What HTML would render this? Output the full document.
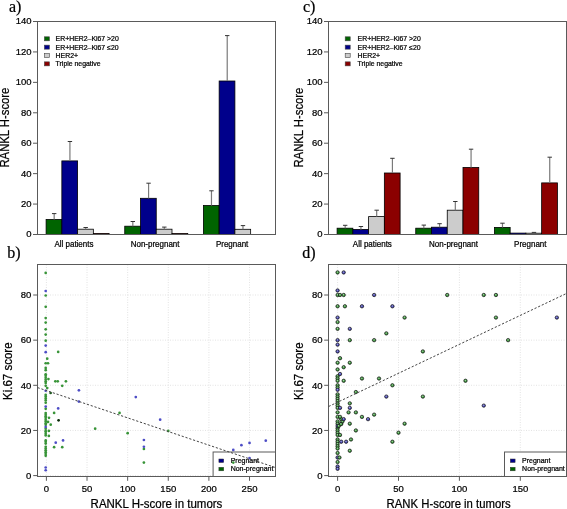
<!DOCTYPE html>
<html><head><meta charset="utf-8"><style>
html,body{margin:0;padding:0;background:#fff;width:567px;height:509px;overflow:hidden}
svg text{fill:#000;stroke:#000;stroke-width:0.22px}
svg{filter:blur(0.3px)}
</style></head><body>
<svg width="567" height="509" viewBox="0 0 567 509" font-family="Liberation Sans, sans-serif" style="display:block">
<defs><radialGradient id="gg" cx="0.45" cy="0.4" r="0.6"><stop offset="0" stop-color="#a8d8a8"/><stop offset="0.55" stop-color="#3f9a3f"/><stop offset="1" stop-color="#2a7a2a"/></radialGradient><radialGradient id="gb" cx="0.45" cy="0.4" r="0.6"><stop offset="0" stop-color="#a8a8e0"/><stop offset="0.55" stop-color="#4a4ab8"/><stop offset="1" stop-color="#30308a"/></radialGradient></defs>
<rect width="567" height="509" fill="#fff"/>
<rect x="37.5" y="21.5" width="238.0" height="213.0" fill="none" stroke="#5a5a5a" stroke-width="1"/>
<line x1="33.0" y1="234.50" x2="37.5" y2="234.50" stroke="#5a5a5a" stroke-width="1"/>
<text transform="translate(31.60,237.40) scale(1,1.05)" text-anchor="end" font-size="9.5">0</text>
<line x1="33.0" y1="204.07" x2="37.5" y2="204.07" stroke="#5a5a5a" stroke-width="1"/>
<text transform="translate(31.60,206.97) scale(1,1.05)" text-anchor="end" font-size="9.5">20</text>
<line x1="33.0" y1="173.64" x2="37.5" y2="173.64" stroke="#5a5a5a" stroke-width="1"/>
<text transform="translate(31.60,176.54) scale(1,1.05)" text-anchor="end" font-size="9.5">40</text>
<line x1="33.0" y1="143.21" x2="37.5" y2="143.21" stroke="#5a5a5a" stroke-width="1"/>
<text transform="translate(31.60,146.11) scale(1,1.05)" text-anchor="end" font-size="9.5">60</text>
<line x1="33.0" y1="112.79" x2="37.5" y2="112.79" stroke="#5a5a5a" stroke-width="1"/>
<text transform="translate(31.60,115.69) scale(1,1.05)" text-anchor="end" font-size="9.5">80</text>
<line x1="33.0" y1="82.36" x2="37.5" y2="82.36" stroke="#5a5a5a" stroke-width="1"/>
<text transform="translate(31.60,85.26) scale(1,1.05)" text-anchor="end" font-size="9.5">100</text>
<line x1="33.0" y1="51.93" x2="37.5" y2="51.93" stroke="#5a5a5a" stroke-width="1"/>
<text transform="translate(31.60,54.83) scale(1,1.05)" text-anchor="end" font-size="9.5">120</text>
<line x1="33.0" y1="21.50" x2="37.5" y2="21.50" stroke="#5a5a5a" stroke-width="1"/>
<text transform="translate(31.60,24.40) scale(1,1.05)" text-anchor="end" font-size="9.5">140</text>
<rect x="46.10" y="219.50" width="15.75" height="15.00" fill="#006400" stroke="#000" stroke-width="0.8"/>
<line x1="54.18" y1="213.60" x2="54.18" y2="219.50" stroke="#7a7a7a" stroke-width="1.2"/>
<line x1="51.98" y1="213.60" x2="56.38" y2="213.60" stroke="#333" stroke-width="1"/>
<rect x="61.85" y="160.90" width="15.75" height="73.60" fill="#00008b" stroke="#000" stroke-width="0.8"/>
<line x1="69.92" y1="141.50" x2="69.92" y2="160.90" stroke="#7a7a7a" stroke-width="1.2"/>
<line x1="67.72" y1="141.50" x2="72.12" y2="141.50" stroke="#333" stroke-width="1"/>
<rect x="77.60" y="229.20" width="15.75" height="5.30" fill="#cccccc" stroke="#000" stroke-width="0.8"/>
<line x1="85.67" y1="227.50" x2="85.67" y2="229.20" stroke="#7a7a7a" stroke-width="1.2"/>
<line x1="83.47" y1="227.50" x2="87.88" y2="227.50" stroke="#333" stroke-width="1"/>
<rect x="93.35" y="233.40" width="15.75" height="1.10" fill="#8b0000" stroke="#000" stroke-width="0.8"/>
<rect x="124.75" y="226.20" width="15.75" height="8.30" fill="#006400" stroke="#000" stroke-width="0.8"/>
<line x1="132.82" y1="221.50" x2="132.82" y2="226.20" stroke="#7a7a7a" stroke-width="1.2"/>
<line x1="130.62" y1="221.50" x2="135.02" y2="221.50" stroke="#333" stroke-width="1"/>
<rect x="140.50" y="198.30" width="15.75" height="36.20" fill="#00008b" stroke="#000" stroke-width="0.8"/>
<line x1="148.57" y1="183.20" x2="148.57" y2="198.30" stroke="#7a7a7a" stroke-width="1.2"/>
<line x1="146.38" y1="183.20" x2="150.77" y2="183.20" stroke="#333" stroke-width="1"/>
<rect x="156.25" y="229.20" width="15.75" height="5.30" fill="#cccccc" stroke="#000" stroke-width="0.8"/>
<line x1="164.32" y1="227.10" x2="164.32" y2="229.20" stroke="#7a7a7a" stroke-width="1.2"/>
<line x1="162.12" y1="227.10" x2="166.52" y2="227.10" stroke="#333" stroke-width="1"/>
<rect x="172.00" y="233.50" width="15.75" height="1.00" fill="#8b0000" stroke="#000" stroke-width="0.8"/>
<rect x="203.40" y="205.50" width="15.75" height="29.00" fill="#006400" stroke="#000" stroke-width="0.8"/>
<line x1="211.47" y1="190.80" x2="211.47" y2="205.50" stroke="#7a7a7a" stroke-width="1.2"/>
<line x1="209.28" y1="190.80" x2="213.67" y2="190.80" stroke="#333" stroke-width="1"/>
<rect x="219.15" y="81.00" width="15.75" height="153.50" fill="#00008b" stroke="#000" stroke-width="0.8"/>
<line x1="227.22" y1="35.60" x2="227.22" y2="81.00" stroke="#7a7a7a" stroke-width="1.2"/>
<line x1="225.03" y1="35.60" x2="229.42" y2="35.60" stroke="#333" stroke-width="1"/>
<rect x="234.90" y="229.30" width="15.75" height="5.20" fill="#cccccc" stroke="#000" stroke-width="0.8"/>
<line x1="242.97" y1="225.60" x2="242.97" y2="229.30" stroke="#7a7a7a" stroke-width="1.2"/>
<line x1="240.78" y1="225.60" x2="245.17" y2="225.60" stroke="#333" stroke-width="1"/>
<line x1="37.5" y1="234.5" x2="275.5" y2="234.5" stroke="#5a5a5a" stroke-width="1"/>
<text transform="translate(54.40,247.20) scale(1,1.05)" font-size="8">All patients</text>
<text transform="translate(130.70,247.20) scale(1,1.05)" font-size="8">Non-pregnant</text>
<text transform="translate(215.90,247.20) scale(1,1.05)" font-size="8">Pregnant</text>
<rect x="44.4" y="36.80" width="5" height="4" fill="#006400" stroke="#444" stroke-width="0.6"/>
<text transform="translate(55.60,41.40) scale(1,1.05)" font-size="6.9">ER+HER2–Ki67 &gt;20</text>
<rect x="44.4" y="45.15" width="5" height="4" fill="#00008b" stroke="#444" stroke-width="0.6"/>
<text transform="translate(55.60,49.75) scale(1,1.05)" font-size="6.9">ER+HER2–Ki67 ≤20</text>
<rect x="44.4" y="53.50" width="5" height="4" fill="#cccccc" stroke="#444" stroke-width="0.6"/>
<text transform="translate(55.60,58.10) scale(1,1.05)" font-size="6.9">HER2+</text>
<rect x="44.4" y="61.85" width="5" height="4" fill="#8b0000" stroke="#444" stroke-width="0.6"/>
<text transform="translate(55.60,66.45) scale(1,1.05)" font-size="6.9">Triple negative</text>
<text x="9.0" y="11.7" font-family="Liberation Serif, serif" font-size="16">a)</text>
<text transform="translate(9.40,127.60) rotate(-90) scale(1,1.05)" text-anchor="middle" font-size="11.3">RANKL H-score</text>
<rect x="328.5" y="21.5" width="238.0" height="213.0" fill="none" stroke="#5a5a5a" stroke-width="1"/>
<line x1="324.0" y1="234.50" x2="328.5" y2="234.50" stroke="#5a5a5a" stroke-width="1"/>
<text transform="translate(322.50,237.40) scale(1,1.05)" text-anchor="end" font-size="9.5">0</text>
<line x1="324.0" y1="204.07" x2="328.5" y2="204.07" stroke="#5a5a5a" stroke-width="1"/>
<text transform="translate(322.50,206.97) scale(1,1.05)" text-anchor="end" font-size="9.5">20</text>
<line x1="324.0" y1="173.64" x2="328.5" y2="173.64" stroke="#5a5a5a" stroke-width="1"/>
<text transform="translate(322.50,176.54) scale(1,1.05)" text-anchor="end" font-size="9.5">40</text>
<line x1="324.0" y1="143.21" x2="328.5" y2="143.21" stroke="#5a5a5a" stroke-width="1"/>
<text transform="translate(322.50,146.11) scale(1,1.05)" text-anchor="end" font-size="9.5">60</text>
<line x1="324.0" y1="112.79" x2="328.5" y2="112.79" stroke="#5a5a5a" stroke-width="1"/>
<text transform="translate(322.50,115.69) scale(1,1.05)" text-anchor="end" font-size="9.5">80</text>
<line x1="324.0" y1="82.36" x2="328.5" y2="82.36" stroke="#5a5a5a" stroke-width="1"/>
<text transform="translate(322.50,85.26) scale(1,1.05)" text-anchor="end" font-size="9.5">100</text>
<line x1="324.0" y1="51.93" x2="328.5" y2="51.93" stroke="#5a5a5a" stroke-width="1"/>
<text transform="translate(322.50,54.83) scale(1,1.05)" text-anchor="end" font-size="9.5">120</text>
<line x1="324.0" y1="21.50" x2="328.5" y2="21.50" stroke="#5a5a5a" stroke-width="1"/>
<text transform="translate(322.50,24.40) scale(1,1.05)" text-anchor="end" font-size="9.5">140</text>
<rect x="337.10" y="228.20" width="15.75" height="6.30" fill="#006400" stroke="#000" stroke-width="0.8"/>
<line x1="345.18" y1="225.30" x2="345.18" y2="228.20" stroke="#7a7a7a" stroke-width="1.2"/>
<line x1="342.98" y1="225.30" x2="347.38" y2="225.30" stroke="#333" stroke-width="1"/>
<rect x="352.85" y="229.40" width="15.75" height="5.10" fill="#00008b" stroke="#000" stroke-width="0.8"/>
<line x1="360.93" y1="226.50" x2="360.93" y2="229.40" stroke="#7a7a7a" stroke-width="1.2"/>
<line x1="358.73" y1="226.50" x2="363.12" y2="226.50" stroke="#333" stroke-width="1"/>
<rect x="368.60" y="216.60" width="15.75" height="17.90" fill="#cccccc" stroke="#000" stroke-width="0.8"/>
<line x1="376.68" y1="210.20" x2="376.68" y2="216.60" stroke="#7a7a7a" stroke-width="1.2"/>
<line x1="374.48" y1="210.20" x2="378.88" y2="210.20" stroke="#333" stroke-width="1"/>
<rect x="384.35" y="173.00" width="15.75" height="61.50" fill="#8b0000" stroke="#000" stroke-width="0.8"/>
<line x1="392.43" y1="158.30" x2="392.43" y2="173.00" stroke="#7a7a7a" stroke-width="1.2"/>
<line x1="390.23" y1="158.30" x2="394.62" y2="158.30" stroke="#333" stroke-width="1"/>
<rect x="415.75" y="228.20" width="15.75" height="6.30" fill="#006400" stroke="#000" stroke-width="0.8"/>
<line x1="423.82" y1="225.10" x2="423.82" y2="228.20" stroke="#7a7a7a" stroke-width="1.2"/>
<line x1="421.62" y1="225.10" x2="426.02" y2="225.10" stroke="#333" stroke-width="1"/>
<rect x="431.50" y="227.20" width="15.75" height="7.30" fill="#00008b" stroke="#000" stroke-width="0.8"/>
<line x1="439.57" y1="223.70" x2="439.57" y2="227.20" stroke="#7a7a7a" stroke-width="1.2"/>
<line x1="437.38" y1="223.70" x2="441.77" y2="223.70" stroke="#333" stroke-width="1"/>
<rect x="447.25" y="210.20" width="15.75" height="24.30" fill="#cccccc" stroke="#000" stroke-width="0.8"/>
<line x1="455.32" y1="201.50" x2="455.32" y2="210.20" stroke="#7a7a7a" stroke-width="1.2"/>
<line x1="453.12" y1="201.50" x2="457.52" y2="201.50" stroke="#333" stroke-width="1"/>
<rect x="463.00" y="167.40" width="15.75" height="67.10" fill="#8b0000" stroke="#000" stroke-width="0.8"/>
<line x1="471.07" y1="149.20" x2="471.07" y2="167.40" stroke="#7a7a7a" stroke-width="1.2"/>
<line x1="468.88" y1="149.20" x2="473.27" y2="149.20" stroke="#333" stroke-width="1"/>
<rect x="494.40" y="227.40" width="15.75" height="7.10" fill="#006400" stroke="#000" stroke-width="0.8"/>
<line x1="502.48" y1="223.20" x2="502.48" y2="227.40" stroke="#7a7a7a" stroke-width="1.2"/>
<line x1="500.28" y1="223.20" x2="504.68" y2="223.20" stroke="#333" stroke-width="1"/>
<rect x="510.15" y="233.10" width="15.75" height="1.40" fill="#00008b" stroke="#000" stroke-width="0.8"/>
<rect x="525.90" y="233.20" width="15.75" height="1.30" fill="#cccccc" stroke="#000" stroke-width="0.8"/>
<line x1="533.98" y1="232.40" x2="533.98" y2="233.20" stroke="#7a7a7a" stroke-width="1.2"/>
<line x1="531.78" y1="232.40" x2="536.18" y2="232.40" stroke="#333" stroke-width="1"/>
<rect x="541.65" y="182.90" width="15.75" height="51.60" fill="#8b0000" stroke="#000" stroke-width="0.8"/>
<line x1="549.73" y1="157.20" x2="549.73" y2="182.90" stroke="#7a7a7a" stroke-width="1.2"/>
<line x1="547.53" y1="157.20" x2="551.93" y2="157.20" stroke="#333" stroke-width="1"/>
<line x1="328.5" y1="234.5" x2="566.5" y2="234.5" stroke="#5a5a5a" stroke-width="1"/>
<text transform="translate(352.80,247.20) scale(1,1.05)" font-size="8">All patients</text>
<text transform="translate(429.10,247.20) scale(1,1.05)" font-size="8">Non-pregnant</text>
<text transform="translate(514.10,247.20) scale(1,1.05)" font-size="8">Pregnant</text>
<rect x="345.2" y="36.80" width="5" height="4" fill="#006400" stroke="#444" stroke-width="0.6"/>
<text transform="translate(357.60,41.40) scale(1,1.05)" font-size="6.9">ER+HER2–Ki67 &gt;20</text>
<rect x="345.2" y="45.15" width="5" height="4" fill="#00008b" stroke="#444" stroke-width="0.6"/>
<text transform="translate(357.60,49.75) scale(1,1.05)" font-size="6.9">ER+HER2–Ki67 ≤20</text>
<rect x="345.2" y="53.50" width="5" height="4" fill="#cccccc" stroke="#444" stroke-width="0.6"/>
<text transform="translate(357.60,58.10) scale(1,1.05)" font-size="6.9">HER2+</text>
<rect x="345.2" y="61.85" width="5" height="4" fill="#8b0000" stroke="#444" stroke-width="0.6"/>
<text transform="translate(357.60,66.45) scale(1,1.05)" font-size="6.9">Triple negative</text>
<text x="303.0" y="11.7" font-family="Liberation Serif, serif" font-size="16">c)</text>
<text transform="translate(303.10,127.60) rotate(-90) scale(1,1.05)" text-anchor="middle" font-size="11.3">RANKL H-score</text>
<line x1="46.40" y1="264.5" x2="46.40" y2="476.5" stroke="#dcdcdc" stroke-width="0.8" stroke-dasharray="1,1.5"/>
<line x1="87.03" y1="264.5" x2="87.03" y2="476.5" stroke="#dcdcdc" stroke-width="0.8" stroke-dasharray="1,1.5"/>
<line x1="127.65" y1="264.5" x2="127.65" y2="476.5" stroke="#dcdcdc" stroke-width="0.8" stroke-dasharray="1,1.5"/>
<line x1="168.28" y1="264.5" x2="168.28" y2="476.5" stroke="#dcdcdc" stroke-width="0.8" stroke-dasharray="1,1.5"/>
<line x1="208.90" y1="264.5" x2="208.90" y2="476.5" stroke="#dcdcdc" stroke-width="0.8" stroke-dasharray="1,1.5"/>
<line x1="249.53" y1="264.5" x2="249.53" y2="476.5" stroke="#dcdcdc" stroke-width="0.8" stroke-dasharray="1,1.5"/>
<line x1="37.5" y1="475.60" x2="275.5" y2="475.60" stroke="#dcdcdc" stroke-width="0.8" stroke-dasharray="1,1.5"/>
<line x1="37.5" y1="430.45" x2="275.5" y2="430.45" stroke="#dcdcdc" stroke-width="0.8" stroke-dasharray="1,1.5"/>
<line x1="37.5" y1="385.30" x2="275.5" y2="385.30" stroke="#dcdcdc" stroke-width="0.8" stroke-dasharray="1,1.5"/>
<line x1="37.5" y1="340.15" x2="275.5" y2="340.15" stroke="#dcdcdc" stroke-width="0.8" stroke-dasharray="1,1.5"/>
<line x1="37.5" y1="295.00" x2="275.5" y2="295.00" stroke="#dcdcdc" stroke-width="0.8" stroke-dasharray="1,1.5"/>
<rect x="37.5" y="264.5" width="238.0" height="212.0" fill="none" stroke="#5a5a5a" stroke-width="1"/>
<rect x="213.1" y="452" width="62.400000000000006" height="24.5" fill="#fff" stroke="#5a5a5a" stroke-width="1"/>
<rect x="218.9" y="459" width="4.8" height="3.5" fill="#00008b" stroke="#333" stroke-width="0.5"/>
<rect x="218.9" y="467.3" width="4.8" height="3.5" fill="#006400" stroke="#333" stroke-width="0.5"/>
<text transform="translate(230.70,463.00) scale(1,1.05)" font-size="7">Pregnant</text>
<text transform="translate(230.70,471.40) scale(1,1.05)" font-size="7">Non-pregnant</text>
<line x1="33.2" y1="475.60" x2="37.5" y2="475.60" stroke="#5a5a5a" stroke-width="1"/>
<text transform="translate(31.40,478.90) scale(1,1.05)" text-anchor="end" font-size="9.5">0</text>
<line x1="33.2" y1="430.45" x2="37.5" y2="430.45" stroke="#5a5a5a" stroke-width="1"/>
<text transform="translate(31.40,433.75) scale(1,1.05)" text-anchor="end" font-size="9.5">20</text>
<line x1="33.2" y1="385.30" x2="37.5" y2="385.30" stroke="#5a5a5a" stroke-width="1"/>
<text transform="translate(31.40,388.60) scale(1,1.05)" text-anchor="end" font-size="9.5">40</text>
<line x1="33.2" y1="340.15" x2="37.5" y2="340.15" stroke="#5a5a5a" stroke-width="1"/>
<text transform="translate(31.40,343.45) scale(1,1.05)" text-anchor="end" font-size="9.5">60</text>
<line x1="33.2" y1="295.00" x2="37.5" y2="295.00" stroke="#5a5a5a" stroke-width="1"/>
<text transform="translate(31.40,298.30) scale(1,1.05)" text-anchor="end" font-size="9.5">80</text>
<line x1="46.40" y1="476.5" x2="46.40" y2="480.8" stroke="#5a5a5a" stroke-width="1"/>
<text transform="translate(46.40,492.40) scale(1,1.05)" text-anchor="middle" font-size="9.5">0</text>
<line x1="87.03" y1="476.5" x2="87.03" y2="480.8" stroke="#5a5a5a" stroke-width="1"/>
<text transform="translate(87.03,492.40) scale(1,1.05)" text-anchor="middle" font-size="9.5">50</text>
<line x1="127.65" y1="476.5" x2="127.65" y2="480.8" stroke="#5a5a5a" stroke-width="1"/>
<text transform="translate(127.65,492.40) scale(1,1.05)" text-anchor="middle" font-size="9.5">100</text>
<line x1="168.28" y1="476.5" x2="168.28" y2="480.8" stroke="#5a5a5a" stroke-width="1"/>
<text transform="translate(168.28,492.40) scale(1,1.05)" text-anchor="middle" font-size="9.5">150</text>
<line x1="208.90" y1="476.5" x2="208.90" y2="480.8" stroke="#5a5a5a" stroke-width="1"/>
<text transform="translate(208.90,492.40) scale(1,1.05)" text-anchor="middle" font-size="9.5">200</text>
<line x1="249.53" y1="476.5" x2="249.53" y2="480.8" stroke="#5a5a5a" stroke-width="1"/>
<text transform="translate(249.53,492.40) scale(1,1.05)" text-anchor="middle" font-size="9.5">250</text>
<circle cx="45.70" cy="455.78" r="1.35" fill="#389438"/>
<circle cx="45.70" cy="453.98" r="1.35" fill="#389438"/>
<circle cx="45.70" cy="452.17" r="1.35" fill="#389438"/>
<circle cx="45.70" cy="450.36" r="1.35" fill="#389438"/>
<circle cx="45.70" cy="448.56" r="1.35" fill="#389438"/>
<circle cx="45.70" cy="446.75" r="1.35" fill="#389438"/>
<circle cx="45.70" cy="443.59" r="1.35" fill="#389438"/>
<circle cx="45.70" cy="441.79" r="1.35" fill="#389438"/>
<circle cx="45.70" cy="440.43" r="1.35" fill="#389438"/>
<circle cx="45.70" cy="435.47" r="1.35" fill="#389438"/>
<circle cx="45.70" cy="433.66" r="1.35" fill="#389438"/>
<circle cx="45.70" cy="431.85" r="1.35" fill="#389438"/>
<circle cx="45.70" cy="430.95" r="1.35" fill="#389438"/>
<circle cx="45.70" cy="428.69" r="1.35" fill="#389438"/>
<circle cx="45.70" cy="424.85" r="1.35" fill="#389438"/>
<circle cx="45.70" cy="423.27" r="1.35" fill="#389438"/>
<circle cx="45.70" cy="421.47" r="1.35" fill="#389438"/>
<circle cx="45.70" cy="419.66" r="1.35" fill="#389438"/>
<circle cx="45.70" cy="417.86" r="1.35" fill="#389438"/>
<circle cx="45.70" cy="416.28" r="1.35" fill="#389438"/>
<circle cx="45.70" cy="414.70" r="1.35" fill="#389438"/>
<circle cx="45.70" cy="413.12" r="1.35" fill="#389438"/>
<circle cx="45.70" cy="408.83" r="1.35" fill="#389438"/>
<circle cx="45.70" cy="402.73" r="1.35" fill="#389438"/>
<circle cx="45.70" cy="400.47" r="1.35" fill="#389438"/>
<circle cx="45.70" cy="398.44" r="1.35" fill="#389438"/>
<circle cx="45.70" cy="396.41" r="1.35" fill="#389438"/>
<circle cx="45.70" cy="394.83" r="1.35" fill="#389438"/>
<circle cx="45.70" cy="385.80" r="1.35" fill="#389438"/>
<circle cx="45.70" cy="383.09" r="1.35" fill="#389438"/>
<circle cx="45.70" cy="381.29" r="1.35" fill="#389438"/>
<circle cx="45.70" cy="379.48" r="1.35" fill="#389438"/>
<circle cx="45.70" cy="377.67" r="1.35" fill="#389438"/>
<circle cx="45.70" cy="375.64" r="1.35" fill="#389438"/>
<circle cx="45.70" cy="374.29" r="1.35" fill="#389438"/>
<circle cx="45.70" cy="370.22" r="1.35" fill="#389438"/>
<circle cx="45.70" cy="367.97" r="1.35" fill="#389438"/>
<circle cx="45.70" cy="363.23" r="1.35" fill="#389438"/>
<circle cx="45.70" cy="340.65" r="1.35" fill="#389438"/>
<circle cx="45.70" cy="334.55" r="1.35" fill="#389438"/>
<circle cx="45.70" cy="329.36" r="1.35" fill="#389438"/>
<circle cx="45.70" cy="322.59" r="1.35" fill="#389438"/>
<circle cx="45.70" cy="318.08" r="1.35" fill="#389438"/>
<circle cx="45.70" cy="306.79" r="1.35" fill="#389438"/>
<circle cx="45.70" cy="295.50" r="1.35" fill="#389438"/>
<circle cx="45.70" cy="272.93" r="1.35" fill="#389438"/>
<circle cx="45.70" cy="470.23" r="1.35" fill="#4d4dc6"/>
<circle cx="45.70" cy="467.52" r="1.35" fill="#4d4dc6"/>
<circle cx="45.70" cy="426.89" r="1.35" fill="#4d4dc6"/>
<circle cx="45.70" cy="406.57" r="1.35" fill="#4d4dc6"/>
<circle cx="45.70" cy="390.77" r="1.35" fill="#4d4dc6"/>
<circle cx="45.70" cy="352.16" r="1.35" fill="#4d4dc6"/>
<circle cx="45.70" cy="345.62" r="1.35" fill="#4d4dc6"/>
<circle cx="45.70" cy="290.99" r="1.35" fill="#4d4dc6"/>
<circle cx="48.02" cy="363.23" r="1.35" fill="#389438"/>
<circle cx="47.21" cy="358.71" r="1.35" fill="#389438"/>
<circle cx="58.18" cy="351.94" r="1.35" fill="#389438"/>
<circle cx="48.43" cy="379.03" r="1.35" fill="#389438"/>
<circle cx="55.34" cy="381.29" r="1.35" fill="#389438"/>
<circle cx="57.77" cy="381.29" r="1.35" fill="#389438"/>
<circle cx="65.90" cy="381.29" r="1.35" fill="#389438"/>
<circle cx="62.24" cy="385.80" r="1.35" fill="#389438"/>
<circle cx="47.21" cy="388.06" r="1.35" fill="#389438"/>
<circle cx="50.62" cy="393.02" r="1.35" fill="#1d5a1d"/>
<circle cx="54.12" cy="412.89" r="1.35" fill="#389438"/>
<circle cx="49.00" cy="417.86" r="1.35" fill="#389438"/>
<circle cx="48.02" cy="421.92" r="1.35" fill="#389438"/>
<circle cx="50.71" cy="424.63" r="1.35" fill="#389438"/>
<circle cx="48.84" cy="430.95" r="1.35" fill="#389438"/>
<circle cx="48.84" cy="435.92" r="1.35" fill="#389438"/>
<circle cx="54.12" cy="447.20" r="1.35" fill="#389438"/>
<circle cx="62.24" cy="447.20" r="1.35" fill="#389438"/>
<circle cx="95.15" cy="428.69" r="1.35" fill="#389438"/>
<circle cx="119.53" cy="412.89" r="1.35" fill="#389438"/>
<circle cx="127.65" cy="433.21" r="1.35" fill="#389438"/>
<circle cx="168.28" cy="430.95" r="1.35" fill="#389438"/>
<circle cx="143.90" cy="449.01" r="1.35" fill="#389438"/>
<circle cx="143.90" cy="462.56" r="1.35" fill="#389438"/>
<circle cx="233.28" cy="462.56" r="1.35" fill="#389438"/>
<circle cx="58.18" cy="408.38" r="1.35" fill="#4d4dc6"/>
<circle cx="78.90" cy="390.32" r="1.35" fill="#4d4dc6"/>
<circle cx="78.90" cy="401.60" r="1.35" fill="#4d4dc6"/>
<circle cx="63.06" cy="440.43" r="1.35" fill="#4d4dc6"/>
<circle cx="55.74" cy="442.69" r="1.35" fill="#4d4dc6"/>
<circle cx="135.78" cy="397.09" r="1.35" fill="#4d4dc6"/>
<circle cx="160.15" cy="419.66" r="1.35" fill="#4d4dc6"/>
<circle cx="143.90" cy="439.98" r="1.35" fill="#4d4dc6"/>
<circle cx="143.90" cy="446.75" r="1.35" fill="#4d4dc6"/>
<circle cx="233.28" cy="449.91" r="1.35" fill="#4d4dc6"/>
<circle cx="241.40" cy="445.17" r="1.35" fill="#4d4dc6"/>
<circle cx="249.53" cy="442.91" r="1.35" fill="#4d4dc6"/>
<circle cx="265.77" cy="440.66" r="1.35" fill="#4d4dc6"/>
<circle cx="249.53" cy="458.04" r="1.35" fill="#4d4dc6"/>
<circle cx="58.59" cy="420.34" r="1.35" fill="#0a2a0a"/>
<line x1="37.6" y1="387.6" x2="275.6" y2="467.6" stroke="#444" stroke-width="1" stroke-dasharray="2.2,1.8"/>
<text x="7.2" y="257.8" font-family="Liberation Serif, serif" font-size="16">b)</text>
<text transform="translate(12.20,371.20) rotate(-90) scale(1,1.05)" text-anchor="middle" font-size="11.5">Ki.67 score</text>
<text transform="translate(90.60,508.00) scale(1,1.05)" font-size="11.5">RANKL H-score in tumors</text>
<line x1="337.60" y1="264.5" x2="337.60" y2="476.5" stroke="#dcdcdc" stroke-width="0.8" stroke-dasharray="1,1.5"/>
<line x1="398.50" y1="264.5" x2="398.50" y2="476.5" stroke="#dcdcdc" stroke-width="0.8" stroke-dasharray="1,1.5"/>
<line x1="459.40" y1="264.5" x2="459.40" y2="476.5" stroke="#dcdcdc" stroke-width="0.8" stroke-dasharray="1,1.5"/>
<line x1="520.30" y1="264.5" x2="520.30" y2="476.5" stroke="#dcdcdc" stroke-width="0.8" stroke-dasharray="1,1.5"/>
<line x1="328.5" y1="475.60" x2="566.5" y2="475.60" stroke="#dcdcdc" stroke-width="0.8" stroke-dasharray="1,1.5"/>
<line x1="328.5" y1="430.45" x2="566.5" y2="430.45" stroke="#dcdcdc" stroke-width="0.8" stroke-dasharray="1,1.5"/>
<line x1="328.5" y1="385.30" x2="566.5" y2="385.30" stroke="#dcdcdc" stroke-width="0.8" stroke-dasharray="1,1.5"/>
<line x1="328.5" y1="340.15" x2="566.5" y2="340.15" stroke="#dcdcdc" stroke-width="0.8" stroke-dasharray="1,1.5"/>
<line x1="328.5" y1="295.00" x2="566.5" y2="295.00" stroke="#dcdcdc" stroke-width="0.8" stroke-dasharray="1,1.5"/>
<rect x="328.5" y="264.5" width="238.0" height="212.0" fill="none" stroke="#5a5a5a" stroke-width="1"/>
<rect x="504.5" y="452" width="62.0" height="24.5" fill="#fff" stroke="#5a5a5a" stroke-width="1"/>
<rect x="510.3" y="459" width="4.8" height="3.5" fill="#00008b" stroke="#333" stroke-width="0.5"/>
<rect x="510.3" y="467.3" width="4.8" height="3.5" fill="#006400" stroke="#333" stroke-width="0.5"/>
<text transform="translate(522.10,463.00) scale(1,1.05)" font-size="7">Pregnant</text>
<text transform="translate(522.10,471.40) scale(1,1.05)" font-size="7">Non-pregnant</text>
<line x1="324.2" y1="475.60" x2="328.5" y2="475.60" stroke="#5a5a5a" stroke-width="1"/>
<text transform="translate(322.60,478.90) scale(1,1.05)" text-anchor="end" font-size="9.5">0</text>
<line x1="324.2" y1="430.45" x2="328.5" y2="430.45" stroke="#5a5a5a" stroke-width="1"/>
<text transform="translate(322.60,433.75) scale(1,1.05)" text-anchor="end" font-size="9.5">20</text>
<line x1="324.2" y1="385.30" x2="328.5" y2="385.30" stroke="#5a5a5a" stroke-width="1"/>
<text transform="translate(322.60,388.60) scale(1,1.05)" text-anchor="end" font-size="9.5">40</text>
<line x1="324.2" y1="340.15" x2="328.5" y2="340.15" stroke="#5a5a5a" stroke-width="1"/>
<text transform="translate(322.60,343.45) scale(1,1.05)" text-anchor="end" font-size="9.5">60</text>
<line x1="324.2" y1="295.00" x2="328.5" y2="295.00" stroke="#5a5a5a" stroke-width="1"/>
<text transform="translate(322.60,298.30) scale(1,1.05)" text-anchor="end" font-size="9.5">80</text>
<line x1="337.60" y1="476.5" x2="337.60" y2="480.8" stroke="#5a5a5a" stroke-width="1"/>
<text transform="translate(337.60,492.40) scale(1,1.05)" text-anchor="middle" font-size="9.5">0</text>
<line x1="398.50" y1="476.5" x2="398.50" y2="480.8" stroke="#5a5a5a" stroke-width="1"/>
<text transform="translate(398.50,492.40) scale(1,1.05)" text-anchor="middle" font-size="9.5">50</text>
<line x1="459.40" y1="476.5" x2="459.40" y2="480.8" stroke="#5a5a5a" stroke-width="1"/>
<text transform="translate(459.40,492.40) scale(1,1.05)" text-anchor="middle" font-size="9.5">100</text>
<line x1="520.30" y1="476.5" x2="520.30" y2="480.8" stroke="#5a5a5a" stroke-width="1"/>
<text transform="translate(520.30,492.40) scale(1,1.05)" text-anchor="middle" font-size="9.5">150</text>
<circle cx="337.60" cy="272.43" r="1.7" fill="url(#gg)" stroke="#1a1a1a" stroke-width="0.7"/>
<circle cx="337.60" cy="295.00" r="1.7" fill="url(#gg)" stroke="#1a1a1a" stroke-width="0.7"/>
<circle cx="337.60" cy="306.29" r="1.7" fill="url(#gg)" stroke="#1a1a1a" stroke-width="0.7"/>
<circle cx="337.60" cy="322.09" r="1.7" fill="url(#gg)" stroke="#1a1a1a" stroke-width="0.7"/>
<circle cx="337.60" cy="328.86" r="1.7" fill="url(#gg)" stroke="#1a1a1a" stroke-width="0.7"/>
<circle cx="337.60" cy="362.73" r="1.7" fill="url(#gg)" stroke="#1a1a1a" stroke-width="0.7"/>
<circle cx="337.60" cy="369.50" r="1.7" fill="url(#gg)" stroke="#1a1a1a" stroke-width="0.7"/>
<circle cx="337.60" cy="376.27" r="1.7" fill="url(#gg)" stroke="#1a1a1a" stroke-width="0.7"/>
<circle cx="337.60" cy="378.53" r="1.7" fill="url(#gg)" stroke="#1a1a1a" stroke-width="0.7"/>
<circle cx="337.60" cy="380.79" r="1.7" fill="url(#gg)" stroke="#1a1a1a" stroke-width="0.7"/>
<circle cx="337.60" cy="385.30" r="1.7" fill="url(#gg)" stroke="#1a1a1a" stroke-width="0.7"/>
<circle cx="337.60" cy="387.56" r="1.7" fill="url(#gg)" stroke="#1a1a1a" stroke-width="0.7"/>
<circle cx="337.60" cy="394.33" r="1.7" fill="url(#gg)" stroke="#1a1a1a" stroke-width="0.7"/>
<circle cx="337.60" cy="396.59" r="1.7" fill="url(#gg)" stroke="#1a1a1a" stroke-width="0.7"/>
<circle cx="337.60" cy="398.85" r="1.7" fill="url(#gg)" stroke="#1a1a1a" stroke-width="0.7"/>
<circle cx="337.60" cy="401.10" r="1.7" fill="url(#gg)" stroke="#1a1a1a" stroke-width="0.7"/>
<circle cx="337.60" cy="403.36" r="1.7" fill="url(#gg)" stroke="#1a1a1a" stroke-width="0.7"/>
<circle cx="337.60" cy="405.62" r="1.7" fill="url(#gg)" stroke="#1a1a1a" stroke-width="0.7"/>
<circle cx="337.60" cy="407.88" r="1.7" fill="url(#gg)" stroke="#1a1a1a" stroke-width="0.7"/>
<circle cx="337.60" cy="412.39" r="1.7" fill="url(#gg)" stroke="#1a1a1a" stroke-width="0.7"/>
<circle cx="337.60" cy="416.91" r="1.7" fill="url(#gg)" stroke="#1a1a1a" stroke-width="0.7"/>
<circle cx="337.60" cy="421.42" r="1.7" fill="url(#gg)" stroke="#1a1a1a" stroke-width="0.7"/>
<circle cx="337.60" cy="423.68" r="1.7" fill="url(#gg)" stroke="#1a1a1a" stroke-width="0.7"/>
<circle cx="337.60" cy="428.19" r="1.7" fill="url(#gg)" stroke="#1a1a1a" stroke-width="0.7"/>
<circle cx="337.60" cy="430.45" r="1.7" fill="url(#gg)" stroke="#1a1a1a" stroke-width="0.7"/>
<circle cx="337.60" cy="432.71" r="1.7" fill="url(#gg)" stroke="#1a1a1a" stroke-width="0.7"/>
<circle cx="337.60" cy="434.97" r="1.7" fill="url(#gg)" stroke="#1a1a1a" stroke-width="0.7"/>
<circle cx="337.60" cy="439.48" r="1.7" fill="url(#gg)" stroke="#1a1a1a" stroke-width="0.7"/>
<circle cx="337.60" cy="441.74" r="1.7" fill="url(#gg)" stroke="#1a1a1a" stroke-width="0.7"/>
<circle cx="337.60" cy="444.00" r="1.7" fill="url(#gg)" stroke="#1a1a1a" stroke-width="0.7"/>
<circle cx="337.60" cy="446.25" r="1.7" fill="url(#gg)" stroke="#1a1a1a" stroke-width="0.7"/>
<circle cx="337.60" cy="448.51" r="1.7" fill="url(#gg)" stroke="#1a1a1a" stroke-width="0.7"/>
<circle cx="337.60" cy="453.03" r="1.7" fill="url(#gg)" stroke="#1a1a1a" stroke-width="0.7"/>
<circle cx="337.60" cy="462.06" r="1.7" fill="url(#gg)" stroke="#1a1a1a" stroke-width="0.7"/>
<circle cx="337.60" cy="290.49" r="1.7" fill="url(#gb)" stroke="#1a1a1a" stroke-width="0.7"/>
<circle cx="337.60" cy="317.58" r="1.7" fill="url(#gb)" stroke="#1a1a1a" stroke-width="0.7"/>
<circle cx="337.60" cy="340.15" r="1.7" fill="url(#gb)" stroke="#1a1a1a" stroke-width="0.7"/>
<circle cx="337.60" cy="344.67" r="1.7" fill="url(#gb)" stroke="#1a1a1a" stroke-width="0.7"/>
<circle cx="337.60" cy="351.44" r="1.7" fill="url(#gb)" stroke="#1a1a1a" stroke-width="0.7"/>
<circle cx="337.60" cy="389.82" r="1.7" fill="url(#gb)" stroke="#1a1a1a" stroke-width="0.7"/>
<circle cx="337.60" cy="425.94" r="1.7" fill="url(#gb)" stroke="#1a1a1a" stroke-width="0.7"/>
<circle cx="337.60" cy="457.54" r="1.7" fill="url(#gb)" stroke="#1a1a1a" stroke-width="0.7"/>
<circle cx="337.60" cy="466.57" r="1.7" fill="url(#gb)" stroke="#1a1a1a" stroke-width="0.7"/>
<circle cx="337.60" cy="468.83" r="1.7" fill="url(#gb)" stroke="#1a1a1a" stroke-width="0.7"/>
<circle cx="340.04" cy="295.00" r="1.7" fill="url(#gg)" stroke="#1a1a1a" stroke-width="0.7"/>
<circle cx="343.69" cy="295.00" r="1.7" fill="url(#gg)" stroke="#1a1a1a" stroke-width="0.7"/>
<circle cx="344.91" cy="306.29" r="1.7" fill="url(#gg)" stroke="#1a1a1a" stroke-width="0.7"/>
<circle cx="349.78" cy="340.15" r="1.7" fill="url(#gg)" stroke="#1a1a1a" stroke-width="0.7"/>
<circle cx="374.14" cy="340.15" r="1.7" fill="url(#gg)" stroke="#1a1a1a" stroke-width="0.7"/>
<circle cx="386.32" cy="333.38" r="1.7" fill="url(#gg)" stroke="#1a1a1a" stroke-width="0.7"/>
<circle cx="404.59" cy="317.58" r="1.7" fill="url(#gg)" stroke="#1a1a1a" stroke-width="0.7"/>
<circle cx="422.86" cy="351.44" r="1.7" fill="url(#gg)" stroke="#1a1a1a" stroke-width="0.7"/>
<circle cx="340.04" cy="358.21" r="1.7" fill="url(#gg)" stroke="#1a1a1a" stroke-width="0.7"/>
<circle cx="349.78" cy="362.73" r="1.7" fill="url(#gg)" stroke="#1a1a1a" stroke-width="0.7"/>
<circle cx="343.69" cy="367.24" r="1.7" fill="url(#gg)" stroke="#1a1a1a" stroke-width="0.7"/>
<circle cx="361.96" cy="378.53" r="1.7" fill="url(#gg)" stroke="#1a1a1a" stroke-width="0.7"/>
<circle cx="379.01" cy="378.53" r="1.7" fill="url(#gg)" stroke="#1a1a1a" stroke-width="0.7"/>
<circle cx="343.69" cy="380.79" r="1.7" fill="url(#gg)" stroke="#1a1a1a" stroke-width="0.7"/>
<circle cx="392.41" cy="385.30" r="1.7" fill="url(#gg)" stroke="#1a1a1a" stroke-width="0.7"/>
<circle cx="355.87" cy="392.07" r="1.7" fill="url(#gg)" stroke="#1a1a1a" stroke-width="0.7"/>
<circle cx="422.86" cy="396.59" r="1.7" fill="url(#gg)" stroke="#1a1a1a" stroke-width="0.7"/>
<circle cx="349.78" cy="403.36" r="1.7" fill="url(#gg)" stroke="#1a1a1a" stroke-width="0.7"/>
<circle cx="348.56" cy="412.39" r="1.7" fill="url(#gg)" stroke="#1a1a1a" stroke-width="0.7"/>
<circle cx="355.87" cy="412.39" r="1.7" fill="url(#gg)" stroke="#1a1a1a" stroke-width="0.7"/>
<circle cx="374.14" cy="414.65" r="1.7" fill="url(#gg)" stroke="#1a1a1a" stroke-width="0.7"/>
<circle cx="361.96" cy="416.91" r="1.7" fill="url(#gg)" stroke="#1a1a1a" stroke-width="0.7"/>
<circle cx="341.25" cy="423.68" r="1.7" fill="url(#gg)" stroke="#1a1a1a" stroke-width="0.7"/>
<circle cx="349.78" cy="423.68" r="1.7" fill="url(#gg)" stroke="#1a1a1a" stroke-width="0.7"/>
<circle cx="404.59" cy="423.68" r="1.7" fill="url(#gg)" stroke="#1a1a1a" stroke-width="0.7"/>
<circle cx="355.87" cy="430.45" r="1.7" fill="url(#gg)" stroke="#1a1a1a" stroke-width="0.7"/>
<circle cx="398.50" cy="432.71" r="1.7" fill="url(#gg)" stroke="#1a1a1a" stroke-width="0.7"/>
<circle cx="340.04" cy="434.97" r="1.7" fill="url(#gg)" stroke="#1a1a1a" stroke-width="0.7"/>
<circle cx="351.00" cy="439.48" r="1.7" fill="url(#gg)" stroke="#1a1a1a" stroke-width="0.7"/>
<circle cx="392.41" cy="441.74" r="1.7" fill="url(#gg)" stroke="#1a1a1a" stroke-width="0.7"/>
<circle cx="349.78" cy="450.77" r="1.7" fill="url(#gg)" stroke="#1a1a1a" stroke-width="0.7"/>
<circle cx="339.43" cy="457.54" r="1.7" fill="url(#gg)" stroke="#1a1a1a" stroke-width="0.7"/>
<circle cx="341.25" cy="419.16" r="1.7" fill="url(#gg)" stroke="#1a1a1a" stroke-width="0.7"/>
<circle cx="340.04" cy="416.91" r="1.7" fill="url(#gg)" stroke="#1a1a1a" stroke-width="0.7"/>
<circle cx="342.47" cy="421.42" r="1.7" fill="url(#gg)" stroke="#1a1a1a" stroke-width="0.7"/>
<circle cx="338.82" cy="425.94" r="1.7" fill="url(#gg)" stroke="#1a1a1a" stroke-width="0.7"/>
<circle cx="465.49" cy="380.79" r="1.7" fill="url(#gg)" stroke="#1a1a1a" stroke-width="0.7"/>
<circle cx="447.22" cy="295.00" r="1.7" fill="url(#gg)" stroke="#1a1a1a" stroke-width="0.7"/>
<circle cx="483.76" cy="295.00" r="1.7" fill="url(#gg)" stroke="#1a1a1a" stroke-width="0.7"/>
<circle cx="495.94" cy="295.00" r="1.7" fill="url(#gg)" stroke="#1a1a1a" stroke-width="0.7"/>
<circle cx="495.94" cy="317.58" r="1.7" fill="url(#gg)" stroke="#1a1a1a" stroke-width="0.7"/>
<circle cx="508.12" cy="340.15" r="1.7" fill="url(#gg)" stroke="#1a1a1a" stroke-width="0.7"/>
<circle cx="343.69" cy="272.43" r="1.7" fill="url(#gb)" stroke="#1a1a1a" stroke-width="0.7"/>
<circle cx="374.14" cy="295.00" r="1.7" fill="url(#gb)" stroke="#1a1a1a" stroke-width="0.7"/>
<circle cx="361.96" cy="306.29" r="1.7" fill="url(#gb)" stroke="#1a1a1a" stroke-width="0.7"/>
<circle cx="392.41" cy="306.29" r="1.7" fill="url(#gb)" stroke="#1a1a1a" stroke-width="0.7"/>
<circle cx="349.78" cy="328.86" r="1.7" fill="url(#gb)" stroke="#1a1a1a" stroke-width="0.7"/>
<circle cx="340.04" cy="374.01" r="1.7" fill="url(#gb)" stroke="#1a1a1a" stroke-width="0.7"/>
<circle cx="386.32" cy="396.59" r="1.7" fill="url(#gb)" stroke="#1a1a1a" stroke-width="0.7"/>
<circle cx="340.04" cy="407.88" r="1.7" fill="url(#gb)" stroke="#1a1a1a" stroke-width="0.7"/>
<circle cx="349.78" cy="407.88" r="1.7" fill="url(#gb)" stroke="#1a1a1a" stroke-width="0.7"/>
<circle cx="368.05" cy="419.16" r="1.7" fill="url(#gb)" stroke="#1a1a1a" stroke-width="0.7"/>
<circle cx="343.69" cy="419.16" r="1.7" fill="url(#gb)" stroke="#1a1a1a" stroke-width="0.7"/>
<circle cx="341.25" cy="441.74" r="1.7" fill="url(#gb)" stroke="#1a1a1a" stroke-width="0.7"/>
<circle cx="346.13" cy="441.74" r="1.7" fill="url(#gb)" stroke="#1a1a1a" stroke-width="0.7"/>
<circle cx="556.84" cy="317.58" r="1.7" fill="url(#gb)" stroke="#1a1a1a" stroke-width="0.7"/>
<circle cx="483.76" cy="405.62" r="1.7" fill="url(#gb)" stroke="#1a1a1a" stroke-width="0.7"/>
<circle cx="341.01" cy="424.13" r="1.7" fill="url(#gg)" stroke="#1a1a1a" stroke-width="0.7"/>
<line x1="328.6" y1="406.5" x2="566.4" y2="293.5" stroke="#444" stroke-width="1" stroke-dasharray="2.2,1.8"/>
<text x="302.2" y="257.8" font-family="Liberation Serif, serif" font-size="16">d)</text>
<text transform="translate(303.00,371.20) rotate(-90) scale(1,1.05)" text-anchor="middle" font-size="11.5">Ki.67 score</text>
<text transform="translate(386.60,508.00) scale(1,1.05)" font-size="11.35">RANK H-score in tumors</text>
</svg>
</body></html>
